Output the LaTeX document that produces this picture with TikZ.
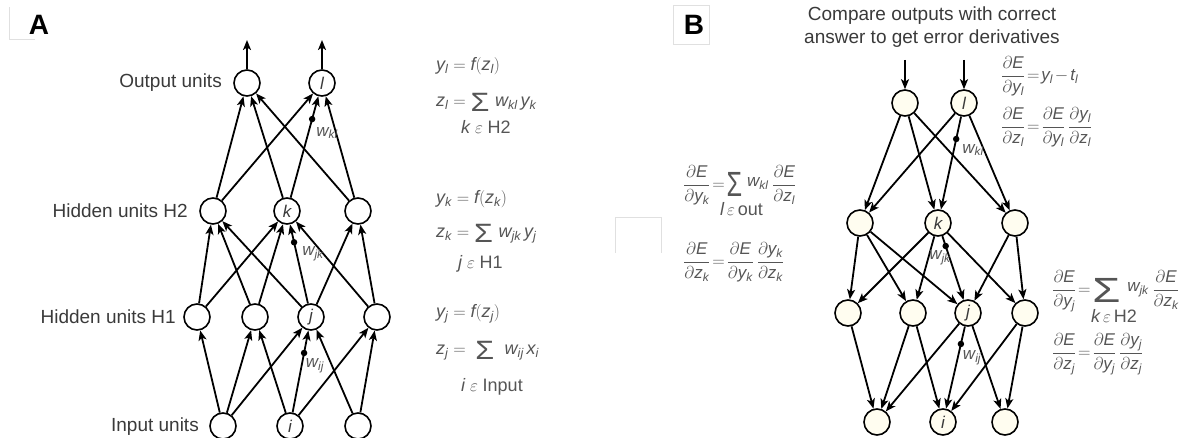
\documentclass[tikz,border=0pt]{standalone}
\usepackage{fontspec}
\setmainfont{Liberation Sans}
\usepackage{amsmath}
\usepackage{graphicx}
\usetikzlibrary{arrows.meta,calc}
\definecolor{txt}{HTML}{3A3A3A}
\definecolor{eqc}{HTML}{555555}
\definecolor{cream}{HTML}{FFFDF0}
\newcommand{\mi}[1]{\mathit{#1}}
\newcommand{\pfrac}[2]{\dfrac{\partial \mi{#1}}{\partial \mi{#2}}}
% big sigma from the text font: #1 size, #2 horizontal scale, #3 vertical shift
\newcommand{\bigsig}[3]{\mathop{\raisebox{#3}{\scalebox{#2}[1]{\fontsize{#1}{#1}\selectfont\upshape Σ}}}}
\newcommand{\upw}[1]{\raisebox{3pt}{$#1$}}
\begin{document}
\begin{tikzpicture}[x=1pt,y=-1pt,
  unit/.style={circle,draw,line width=1.6pt,minimum size=26pt,inner sep=0pt,fill=white,text=txt,font=\fontsize{17}{17}\selectfont\itshape},
  unitB/.style={unit,fill=cream},
  conn/.style={line width=1.8pt,-{Stealth[length=10pt,width=8pt,inset=2.5pt]}},
  wdot/.style={circle,fill=black,inner sep=0pt,minimum size=6.5pt},
  lab/.style={font=\fontsize{19}{23}\selectfont,text=txt,inner sep=0pt},
  wlab/.style={font=\fontsize{17}{17}\selectfont,text=eqc,inner sep=0pt},
  eqA/.style={font=\fontsize{18}{18}\selectfont,text=eqc,inner sep=0pt,anchor=base west},
  eqB/.style={font={\fontsize{17}{17}\selectfont\thickmuskip=2mu\medmuskip=2mu},text=eqc,inner sep=0pt,anchor=base west},
  faint/.style={draw=black!12,line width=0.8pt},
  letter/.style={font=\fontsize{28}{28}\selectfont\bfseries,text=black,inner sep=0pt}
]
\useasboundingbox (0,0) rectangle (1201,438);
% faint frames
\draw[faint] (9,7) -- (9,39) -- (35,39);
\draw[faint] (673,5) rectangle (709,44);
\draw[faint] (615,253) -- (615,217) -- (661,217) -- (661,253);

\node[letter] (la) at (39,25) {A};
\node[letter] (lb) at (694,25) {B};

% ---------------- Panel A ----------------
\node[unit] (ao1) at (247,83) {};
\node[unit] (aol) at (322,83) {l};
\node[unit] (ah21) at (213,211) {};
\node[unit] (ahk) at (287,211) {k};
\node[unit] (ah23) at (358,211) {};
\node[unit] (ah11) at (197,317) {};
\node[unit] (ah12) at (255,317) {};
\node[unit] (ahj) at (311,317) {j};
\node[unit] (ah14) at (377,317) {};
\node[unit] (ai1) at (223,426) {};
\node[unit] (aii) at (290,426) {i};
\node[unit] (ai3) at (358,426) {};
\coordinate (aout1) at (247,40);
\coordinate (aout2) at (322,40);

\draw[conn] (ai1) -- (ah11);
\draw[conn] (ai1) -- (ah12);
\draw[conn] (ai1) -- (ahj);
\draw[conn] (aii) -- (ah12);
\draw[conn] (aii) -- (ahj);
\draw[conn] (aii) -- (ah14);
\draw[conn] (ai3) -- (ahj);
\draw[conn] (ai3) -- (ah14);
\draw[conn] (ah11) -- (ah21);
\draw[conn] (ah11) -- (ahk);
\draw[conn] (ah12) -- (ah21);
\draw[conn] (ah12) -- (ahk);
\draw[conn] (ahj) -- (ah21);
\draw[conn] (ahj) -- (ahk);
\draw[conn] (ahj) -- (ah23);
\draw[conn] (ah14) -- (ahk);
\draw[conn] (ah14) -- (ah23);
\draw[conn] (ah21) -- (ao1);
\draw[conn] (ah21) -- (aol);
\draw[conn] (ahk) -- (ao1);
\draw[conn] (ahk) -- (aol);
\draw[conn] (ah23) -- (ao1);
\draw[conn] (ah23) -- (aol);
\draw[conn] (ao1) -- (aout1);
\draw[conn] (aol) -- (aout2);

\node[wdot] (adkl) at ($(ahk)!0.718!(aol)$) {};
\node[wdot] (adjk) at ($(ahj)!0.705!(ahk)$) {};
\node[wdot] (adij) at ($(aii)!0.67!(ahj)$) {};
\node[wlab] (awkl) at (327,133) {$\mi{w_{kl}}$};
\node[wlab] (awjk) at (313,254) {$\mi{w_{jk}}$};
\node[wlab] (awij) at (315,366) {$\mi{w_{ij}}$};

\node[lab,anchor=east] (lout) at (222,83) {Output units};
\node[lab,anchor=east] (lh2) at (188,211) {Hidden units H2};
\node[lab,anchor=east] (lh1) at (176,317) {Hidden units H1};
\node[lab,anchor=east] (lin) at (199,427) {Input units};

\node[eqA] (e1a) at (436,70.5) {$\mi{y_l} = \mi{f}(\mi{z_l})$};
\node[eqA] (e1b) at (436,106.5) {$\mi{z_l} = \bigsig{26.5pt}{1.15}{-5pt}\,\mi{w_{kl}}\,\mi{y_k}$};
\node[eqA] (e1c) at (461,133.5) {$\mi{k}\;\varepsilon\;$H2};
\node[eqA] (e2a) at (436,203.5) {$\mi{y_k} = \mi{f}(\mi{z_k})$};
\node[eqA] (e2b) at (436,237.5) {$\mi{z_k} = \bigsig{26.5pt}{1.15}{-5pt}\,\mi{w_{jk}}\,\mi{y_j}$};
\node[eqA] (e2c) at (458,268.5) {$\mi{j}\;\varepsilon\;$H1};
\node[eqA] (e3a) at (436,317.5) {$\mi{y_j} = \mi{f}(\mi{z_j})$};
\node[eqA] (e3b) at (436,354.5) {$\mi{z_j} = \;\bigsig{26.5pt}{1.15}{-5pt}\;\,\mi{w_{ij}}\,\mi{x_i}$};
\node[eqA] (e3c) at (461,391.5) {$\mi{i}\;\varepsilon\;$Input};

% ---------------- Panel B ----------------
\node[lab,align=center] (title) at (932,27) {Compare outputs with correct\\answer to get error derivatives};

\node[unitB] (bo1) at (905,103) {};
\node[unitB] (bol) at (964,103) {l};
\node[unitB] (bh21) at (860,223) {};
\node[unitB] (bhk) at (938,223) {k};
\node[unitB] (bh23) at (1015,223) {};
\node[unitB] (bh11) at (848,313) {};
\node[unitB] (bh12) at (913,313) {};
\node[unitB] (bhj) at (968,313) {j};
\node[unitB] (bh14) at (1025,313) {};
\node[unitB] (bi1) at (877,422) {};
\node[unitB] (bii) at (943,422) {i};
\node[unitB] (bi3) at (1005,422) {};
\coordinate (bin1) at (905,60);
\coordinate (bin2) at (964,60);

\draw[conn] (bin1) -- (bo1);
\draw[conn] (bin2) -- (bol);
\draw[conn] (bo1) -- (bh21);
\draw[conn] (bo1) -- (bhk);
\draw[conn] (bo1) -- (bh23);
\draw[conn] (bol) -- (bh21);
\draw[conn] (bol) -- (bhk);
\draw[conn] (bol) -- (bh23);
\draw[conn] (bh21) -- (bh11);
\draw[conn] (bh21) -- (bh12);
\draw[conn] (bh21) -- (bhj);
\draw[conn] (bhk) -- (bh11);
\draw[conn] (bhk) -- (bh12);
\draw[conn] (bhk) -- (bhj);
\draw[conn] (bhk) -- (bh14);
\draw[conn] (bh23) -- (bhj);
\draw[conn] (bh23) -- (bh14);
\draw[conn] (bh11) -- (bi1);
\draw[conn] (bh12) -- (bi1);
\draw[conn] (bh12) -- (bii);
\draw[conn] (bhj) -- (bi1);
\draw[conn] (bhj) -- (bii);
\draw[conn] (bhj) -- (bi3);
\draw[conn] (bh14) -- (bii);
\draw[conn] (bh14) -- (bi3);

\node[wdot] (bdkl) at ($(bol)!0.3!(bhk)$) {};
\node[wdot] (bdjk) at ($(bhk)!0.256!(bhj)$) {};
\node[wdot] (bdij) at ($(bhj)!0.284!(bii)$) {};
\node[wlab] (bwkl) at (973,150) {$\mi{w_{kl}}$};
\node[wlab] (bwjk) at (940,258) {$\mi{w_{jk}}$};
\node[wlab] (bwij) at (972,358) {$\mi{w_{ij}}$};

\node[eqB] (f1) at (1001,80.5) {$\pfrac{E}{y_l}=\mi{y_l}-\mi{t_l}$};
\node[eqB] (f2) at (1001,131.5) {$\pfrac{E}{z_l}=\pfrac{E}{y_l}\,\pfrac{y_l}{z_l}$};
\node[eqB] (f3) at (683,189.5) {$\pfrac{E}{y_k}=\bigsig{35pt}{0.72}{-7pt}\;\upw{\mi{w_{kl}}}\;\;\pfrac{E}{z_l}$};
\node[eqA] (f3l) at (720,215.5) {$\mi{l}\,\varepsilon\,$out};
\node[eqB] (f4) at (683,266.5) {$\pfrac{E}{z_k}=\pfrac{E}{y_k}\,\pfrac{y_k}{z_k}$};
\node[eqB] (f5) at (1052,294.5) {$\pfrac{E}{y_j}=\bigsig{35pt}{1.3}{-8pt}\;\;\upw{\mi{w_{jk}}}\;\;\pfrac{E}{z_k}$};
\node[eqA] (f5l) at (1091,322.5) {$\mi{k}\,\varepsilon\,$H2};
\node[eqB] (f6) at (1052,357.5) {$\pfrac{E}{z_j}=\pfrac{E}{y_j}\,\pfrac{y_j}{z_j}$};
\end{tikzpicture}
\end{document}
